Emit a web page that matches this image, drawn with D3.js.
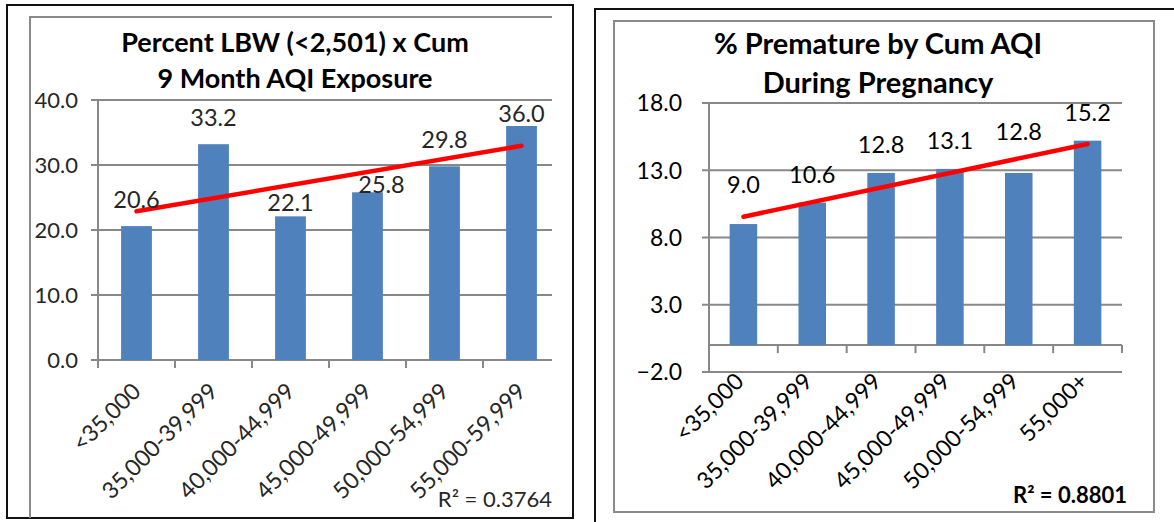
<!DOCTYPE html>
<html>
<head>
<meta charset="utf-8">
<script src="https://cdn.jsdelivr.net/npm/d3@7"></script>
<style>
  body { margin: 0; background: #fff; }
  svg { display: block; }
  text { font-family: Lato, "Open Sans", sans-serif; }
</style>
</head>
<body>
<svg width="1174" height="522"></svg>
<script>
// left chart: low birth weight
var lbwCategories = ["<35,000", "35,000-39,999", "40,000-44,999", "45,000-49,999", "50,000-54,999", "55,000-59,999"];
var lbwValues = [20.6, 33.2, 22.1, 25.8, 29.8, 36.0];
var lbwTicks = [0, 10, 20, 30, 40];
var lbwTitle = ["Percent LBW (<2,501) x Cum", "9 Month AQI Exposure"];

// right chart: premature births
var premCategories = ["<35,000", "35,000-39,999", "40,000-44,999", "45,000-49,999", "50,000-54,999", "55,000+"];
var premValues = [9.0, 10.6, 12.8, 13.1, 12.8, 15.2];
var premTicks = [-2, 3, 8, 13, 18];
var premTitle = ["% Premature by Cum AQI", "During Pregnancy"];

var svg = d3.select("svg");
var gridColor = "#888888";
var barColor = "#4f81bd";

// least squares fit on x = 1..n
function linearFit(values) {
  var n = values.length;
  var xs = d3.range(1, n + 1);
  var mx = d3.mean(xs), my = d3.mean(values);
  var sxy = d3.sum(xs, (x, i) => (x - mx) * (values[i] - my));
  var sxx = d3.sum(xs, x => (x - mx) * (x - mx));
  var syy = d3.sum(values, v => (v - my) * (v - my));
  var slope = sxy / sxx;
  return {
    at: x => my + slope * (x - mx),
    r2: (sxy * sxy) / (sxx * syy)
  };
}

// frames
svg.append("rect")
  .attr("x", 7).attr("y", 5).attr("width", 566).attr("height", 513)
  .attr("fill", "none").attr("stroke", "#111").attr("stroke-width", 2);
svg.append("path")
  .attr("d", "M30,518V17H552")
  .attr("fill", "none").attr("stroke", "#8a8a8a").attr("stroke-width", 2);
svg.append("path")
  .attr("d", "M595,522V9H1174")
  .attr("fill", "none").attr("stroke", "#111").attr("stroke-width", 2);
svg.append("rect")
  .attr("x", 614).attr("y", 21).attr("width", 540).attr("height", 491)
  .attr("fill", "none").attr("stroke", "#8a8a8a").attr("stroke-width", 2);

function drawChart(o) {
  var g = svg.append("g");

  var x = d3.scaleBand()
    .domain(o.categories)
    .range(o.xRange)
    .paddingInner(0.6)
    .paddingOuter(0.3);

  var y = d3.scaleLinear()
    .domain(o.yDomain)
    .range(o.yRange);

  var clipId = "clip-" + o.id;
  g.append("clipPath").attr("id", clipId)
    .append("rect")
    .attr("x", 0).attr("y", 0)
    .attr("width", o.clipRight).attr("height", 522);

  var plot = g.append("g").attr("clip-path", "url(#" + clipId + ")");
  var left = o.xRange[0], right = o.xRange[1];
  var step = x.step();

  // gridlines + y ticks
  plot.selectAll(".grid")
    .data(o.ticks)
    .enter().append("line")
    .attr("x1", left - 7).attr("x2", right)
    .attr("y1", d => y(d)).attr("y2", d => y(d))
    .attr("stroke", gridColor).attr("stroke-width", 2);

  // y axis
  plot.append("line")
    .attr("x1", left).attr("x2", left)
    .attr("y1", y(o.yDomain[1])).attr("y2", Math.max(y(o.yDomain[0]), y(0) + 8))
    .attr("stroke", gridColor).attr("stroke-width", 2);

  // category axis at zero
  plot.append("line")
    .attr("x1", left).attr("x2", right)
    .attr("y1", y(0)).attr("y2", y(0))
    .attr("stroke", gridColor).attr("stroke-width", 2);

  plot.selectAll(".ctick")
    .data(d3.range(o.categories.length + 1))
    .enter().append("line")
    .attr("x1", i => left + i * step).attr("x2", i => left + i * step)
    .attr("y1", y(0)).attr("y2", y(0) + 8)
    .attr("stroke", gridColor).attr("stroke-width", 2);

  // bars
  plot.selectAll(".bar")
    .data(o.values)
    .enter().append("rect")
    .attr("x", (d, i) => x(o.categories[i]))
    .attr("width", x.bandwidth())
    .attr("y", d => y(d))
    .attr("height", d => y(0) - y(d))
    .attr("fill", barColor);

  // trend line
  var fit = linearFit(o.values);
  var n = o.values.length;
  plot.append("line")
    .attr("x1", x(o.categories[0]) + x.bandwidth() / 2)
    .attr("y1", y(fit.at(1)))
    .attr("x2", x(o.categories[n - 1]) + x.bandwidth() / 2)
    .attr("y2", y(fit.at(n)))
    .attr("stroke", "#ff0000").attr("stroke-width", 4.5)
    .attr("stroke-linecap", "round");

  // data labels
  g.selectAll(".vlabel")
    .data(o.values)
    .enter().append("text")
    .attr("x", (d, i) => x(o.categories[i]) + x.bandwidth() / 2 + o.labelDx[i])
    .attr("y", (d, i) => y(d) - o.labelGap + o.labelDy[i])
    .attr("text-anchor", "middle")
    .attr("font-size", 23.5)
    .attr("fill", o.textColor)
    .text(d => d3.format(".1f")(d));

  // y tick labels
  g.selectAll(".ylabel")
    .data(o.ticks)
    .enter().append("text")
    .attr("x", o.tickLabelX)
    .attr("y", d => y(d))
    .attr("dy", "0.36em")
    .attr("text-anchor", "end")
    .attr("font-size", o.tickSize)
    .attr("fill", o.textColor)
    .text(d => d3.format(".1f")(d));

  // category labels
  g.selectAll(".xlabel")
    .data(o.categories)
    .enter().append("text")
    .attr("transform", d => "translate(" + (x(d) + x.bandwidth() / 2 + o.catDx) + "," + o.catY + ") rotate(-45)")
    .attr("dy", "0.35em")
    .attr("text-anchor", "end")
    .attr("font-size", 23)
    .attr("fill", o.textColor)
    .text(d => d);

  // title
  g.selectAll(".title")
    .data(o.title)
    .enter().append("text")
    .attr("x", o.titleX)
    .attr("y", (d, i) => o.titleY[i])
    .attr("text-anchor", "middle")
    .attr("font-size", o.titleSize)
    .attr("font-weight", "bold")
    .attr("fill", "#000")
    .text(d => d);

  // R squared
  g.append("text")
    .attr("x", o.r2X).attr("y", o.r2Y)
    .attr("text-anchor", "end")
    .attr("font-size", 22)
    .attr("font-weight", o.r2Bold ? "bold" : "normal")
    .attr("fill", o.textColor)
    .text("R\u00b2 = " + d3.format(".4f")(fit.r2));
}

drawChart({
  id: "lbw",
  categories: lbwCategories,
  values: lbwValues,
  ticks: lbwTicks,
  yDomain: [0, 40],
  yRange: [360, 100],
  xRange: [98, 560],
  clipRight: 552,
  labelGap: 18,
  labelDx: [0, 0, 0, 14, 0, 0],
  labelDy: [0, 0, 13, 19, 0, 14],
  textColor: "#262626",
  tickLabelX: 78,
  tickSize: 22,
  catDx: 0,
  catY: 387,
  title: lbwTitle,
  titleX: 295,
  titleY: [52, 88],
  titleSize: 27,
  r2X: 552, r2Y: 507, r2Bold: false
});

drawChart({
  id: "prem",
  categories: premCategories,
  values: premValues,
  ticks: premTicks,
  yDomain: [-2, 18],
  yRange: [372, 103],
  xRange: [709, 1122],
  clipRight: 1174,
  labelGap: 20,
  labelDx: [0, 0, 0, 0, 0, 0],
  labelDy: [-11, 0, 0, 0, -13, 0],
  textColor: "#000",
  tickLabelX: 682,
  tickSize: 23,
  catDx: -4,
  catY: 377,
  title: premTitle,
  titleX: 878,
  titleY: [54, 93],
  titleSize: 29,
  r2X: 1127, r2Y: 503, r2Bold: true
});
</script>
</body>
</html>
